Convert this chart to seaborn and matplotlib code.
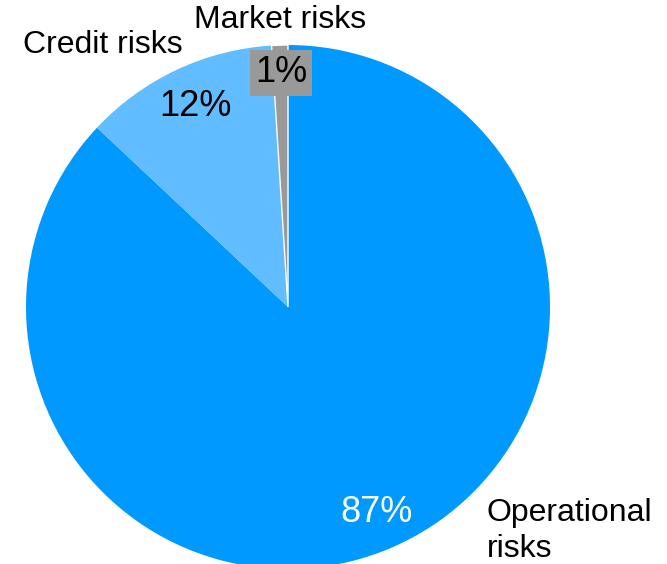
import matplotlib
matplotlib.use("Agg")
import matplotlib.pyplot as plt
import seaborn as sns

# Risk breakdown
categories = ["Operational risks", "Credit risks", "Market risks"]
shares = [87, 12, 1]
colors = ["#0099FF", "#61BDFF", "#999999"]

sns.set_theme(style="white")
plt.rcParams["font.family"] = ["Liberation Sans", "DejaVu Sans"]

W, H = 667, 564
fig = plt.figure(figsize=(W / 100, H / 100), dpi=100)
ax = fig.add_axes([0, 0, 1, 1])

cx, cy, r = 288, H - 307, 262
wedges, _ = ax.pie(
    shares,
    colors=colors,
    startangle=90,
    counterclock=False,
    center=(cx, cy),
    radius=r,
    wedgeprops=dict(linewidth=0),
)
# thin white separator around the smallest slice
wedges[2].set_edgecolor("white")
wedges[2].set_linewidth(1)

ax.set_xlim(0, W)
ax.set_ylim(0, H)
ax.set_aspect("equal")
ax.axis("off")

def py(y):
    return H - y

# value labels
ax.text(377, py(513), f"{shares[0]}%", color="white", fontsize=26,
        ha="center", va="center")
ax.text(195, py(107), f"{shares[1]}%", color="black", fontsize=26,
        ha="center", va="center")
ax.text(281, py(73), f"{shares[2]}%", color="black", fontsize=26,
        ha="center", va="center",
        bbox=dict(boxstyle="square,pad=0.14", facecolor=colors[2], edgecolor="none"))

# category labels
ax.text(487, py(531), "Operational\nrisks", color="black", fontsize=23,
        ha="left", va="center", linespacing=1.25)
ax.text(103, py(45), categories[1], color="black", fontsize=23,
        ha="center", va="center")
ax.text(280, py(20), categories[2], color="black", fontsize=23,
        ha="center", va="center")

fig.savefig("out.png", dpi=100)
